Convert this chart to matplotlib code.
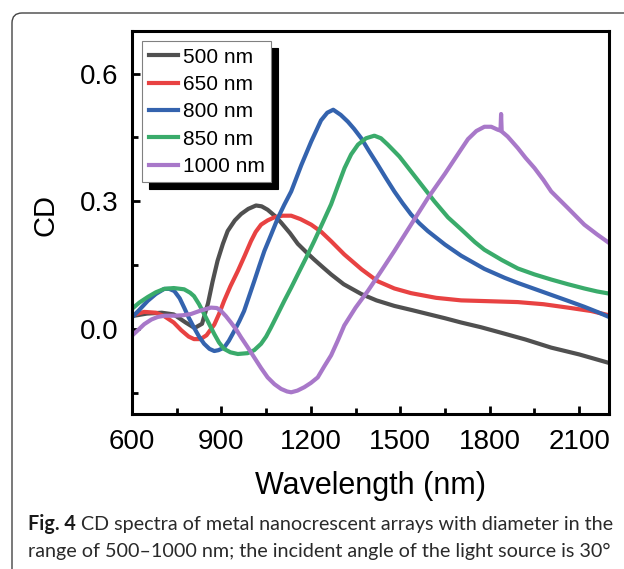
import matplotlib
matplotlib.use('Agg')
import matplotlib.pyplot as plt
from matplotlib.patches import FancyBboxPatch
from matplotlib.transforms import IdentityTransform

plt.rcParams['font.family'] = ['Liberation Sans', 'DejaVu Sans']

# CD spectra (wavelength in nm, CD)
wl_500 = [600, 650, 700, 740, 780, 810, 835, 855, 870, 887, 905, 921, 945, 966, 990,
          1016, 1035, 1055, 1080, 1100, 1130, 1156, 1185, 1211, 1240, 1268, 1310, 1369,
          1420, 1480, 1540, 1592, 1650, 1704, 1770, 1838, 1920, 2006, 2100, 2200]
cd_500 = [0.030, 0.036, 0.038, 0.034, 0.015, 0.002, 0.012, 0.060, 0.110, 0.160, 0.200,
          0.230, 0.255, 0.270, 0.282, 0.290, 0.288, 0.280, 0.265, 0.250, 0.225, 0.200,
          0.180, 0.163, 0.145, 0.128, 0.105, 0.082, 0.067, 0.054, 0.044, 0.035, 0.025,
          0.015, 0.004, -0.009, -0.025, -0.044, -0.060, -0.080]

wl_650 = [600, 641, 680, 708, 740, 765, 790, 808, 830, 850, 876, 892, 909, 930, 955,
          978, 999, 1015, 1033, 1055, 1077, 1105, 1134, 1165, 1201, 1235, 1268, 1312,
          1370, 1424, 1480, 1536, 1620, 1704, 1800, 1894, 1980, 2062, 2140, 2200]
cd_650 = [0.032, 0.040, 0.038, 0.030, 0.015, -0.003, -0.018, -0.024, -0.024, -0.015,
          0.010, 0.035, 0.066, 0.100, 0.136, 0.172, 0.206, 0.228, 0.245, 0.255, 0.262,
          0.266, 0.266, 0.258, 0.245, 0.228, 0.206, 0.175, 0.140, 0.112, 0.095, 0.084,
          0.073, 0.067, 0.065, 0.063, 0.058, 0.050, 0.042, 0.032]

wl_800 = [600, 625, 653, 680, 708, 725, 742, 760, 775, 790, 808, 825, 842, 860, 876,
          890, 909, 925, 943, 960, 976, 993, 1010, 1027, 1044, 1067, 1089, 1111, 1134,
          1168, 1201, 1234, 1255, 1275, 1300, 1324, 1345, 1369, 1395, 1424, 1452, 1480,
          1508, 1536, 1564, 1592, 1650, 1704, 1782, 1850, 1894, 1950, 2006, 2062, 2117,
          2160, 2200]
cd_800 = [0.027, 0.045, 0.066, 0.082, 0.094, 0.094, 0.089, 0.072, 0.050, 0.027, 0.003,
          -0.018, -0.035, -0.047, -0.052, -0.050, -0.044, -0.028, -0.005, 0.018, 0.042,
          0.077, 0.112, 0.148, 0.183, 0.222, 0.260, 0.292, 0.323, 0.385, 0.440, 0.490,
          0.508, 0.515, 0.503, 0.487, 0.470, 0.448, 0.418, 0.386, 0.354, 0.323, 0.295,
          0.269, 0.248, 0.230, 0.198, 0.172, 0.141, 0.120, 0.108, 0.094, 0.080, 0.066,
          0.052, 0.040, 0.028]

wl_850 = [600, 625, 653, 680, 708, 740, 775, 795, 808, 825, 842, 860, 876, 892, 909,
          930, 955, 988, 1010, 1033, 1050, 1066, 1089, 1111, 1134, 1156, 1184, 1211,
          1240, 1268, 1290, 1313, 1335, 1358, 1385, 1413, 1435, 1458, 1497, 1536, 1575,
          1614, 1660, 1704, 1750, 1782, 1840, 1894, 1950, 2006, 2062, 2117, 2160, 2200]
cd_850 = [0.047, 0.062, 0.075, 0.086, 0.094, 0.096, 0.093, 0.085, 0.077, 0.058, 0.035,
          0.010, -0.012, -0.032, -0.047, -0.055, -0.059, -0.057, -0.050, -0.035, -0.018,
          0.003, 0.035, 0.066, 0.097, 0.128, 0.167, 0.206, 0.250, 0.293, 0.335, 0.378,
          0.410, 0.433, 0.448, 0.454, 0.448, 0.433, 0.405, 0.370, 0.335, 0.300, 0.262,
          0.234, 0.204, 0.186, 0.162, 0.142, 0.128, 0.116, 0.105, 0.095, 0.088, 0.083]

wl_1000 = [600, 620, 641, 665, 686, 710, 742, 770, 798, 830, 865, 885, 899, 915, 932,
           950, 966, 988, 1010, 1033, 1055, 1078, 1100, 1120, 1134, 1155, 1178, 1200,
           1223, 1245, 1268, 1290, 1312, 1350, 1391, 1435, 1480, 1536, 1592, 1650, 1704,
           1727, 1755, 1782, 1805, 1827, 1836, 1838, 1840, 1860, 1894, 1920, 1950, 1980,
           2006, 2062, 2117, 2160, 2200]
cd_1000 = [-0.016, -0.003, 0.011, 0.022, 0.028, 0.031, 0.031, 0.032, 0.035, 0.043,
           0.050, 0.049, 0.042, 0.030, 0.015, -0.002, -0.020, -0.043, -0.067, -0.092,
           -0.114, -0.130, -0.141, -0.147, -0.149, -0.145, -0.137, -0.127, -0.114,
           -0.088, -0.062, -0.028, 0.008, 0.050, 0.089, 0.135, 0.183, 0.245, 0.307,
           0.365, 0.422, 0.446, 0.465, 0.475, 0.475, 0.468, 0.466, 0.505, 0.464, 0.452,
           0.425, 0.402, 0.378, 0.350, 0.323, 0.284, 0.245, 0.222, 0.202]

labels = ['500 nm', '650 nm', '800 nm', '850 nm', '1000 nm']
colors = ['#505050', '#e84242', '#3463ae', '#3aab6b', '#a878c9']

x_ticks = [600, 900, 1200, 1500, 1800, 2100]
y_ticks = [0.0, 0.3, 0.6]

caption_bold = 'Fig. 4'
caption_1 = ' CD spectra of metal nanocrescent arrays with diameter in the'
caption_2 = 'range of 500\u20131000 nm; the incident angle of the light source is 30\u00b0'

fig = plt.figure(figsize=(6.24, 5.69), dpi=100)
ax = fig.add_axes([0.2115, 0.2724, 0.7645, 0.6731])

series = [(wl_500, cd_500), (wl_650, cd_650), (wl_800, cd_800),
          (wl_850, cd_850), (wl_1000, cd_1000)]
for (wl, cd), lab, col in zip(series, labels, colors):
    ax.plot(wl, cd, color=col, lw=3, label=lab, solid_joinstyle='round')

ax.set_xlim(600, 2200)
ax.set_ylim(-0.2, 0.7)
ax.set_xticks(x_ticks)
ax.set_xticks([750, 1050, 1350, 1650, 1950], minor=True)
ax.set_yticks(y_ticks)
ax.set_yticklabels(['0.0', '0.3', '0.6'])
ax.set_yticks([-0.15, 0.15, 0.45], minor=True)
ax.tick_params(which='major', direction='in', length=6, width=2, labelsize=20)
ax.tick_params(which='minor', direction='in', length=4, width=2)
ax.tick_params(axis='x', which='major', pad=11)
ax.tick_params(axis='y', which='major', pad=10)
for sp in ax.spines.values():
    sp.set_linewidth(2.2)

ax.set_xlabel('Wavelength (nm)', fontsize=22, labelpad=11)
ax.set_ylabel('CD', fontsize=21)
ax.yaxis.set_label_coords(-0.152, 0.52)

leg = ax.legend(loc='upper left', fontsize=15, handlelength=1.4, handletextpad=0.25,
                labelspacing=0.4, borderpad=0.3, borderaxespad=0.5,
                fancybox=False, framealpha=1,
                shadow={'ox': 5, 'oy': -5, 'facecolor': 'black',
                        'edgecolor': 'black', 'alpha': 1})
leg.get_frame().set_edgecolor('#808080')
leg.get_frame().set_linewidth(0.8)

# rounded frame around the whole figure panel, runs off the right and bottom edges
frame = FancyBboxPatch((12, -30), 660, 586, boxstyle='round,pad=0,rounding_size=10',
                       transform=IdentityTransform(), fill=False, ec='#444444', lw=1)
fig.add_artist(frame)

# caption with bold lead-in
renderer = fig.canvas.get_renderer()
t0 = fig.text(28 / 624, 1 - 530 / 569, caption_bold, fontsize=14.2, fontweight='bold',
              family='Lato', color='#1a1a1a', va='baseline')
bb = t0.get_window_extent(renderer)
fig.text(bb.x1 / 624, 1 - 530 / 569, caption_1, fontsize=14.2, family='Lato',
         color='#2a2a2a', va='baseline')
fig.text(28 / 624, 1 - 557 / 569, caption_2, fontsize=14.2, family='Lato',
         color='#2a2a2a', va='baseline')

fig.savefig('out.png', dpi=100)
